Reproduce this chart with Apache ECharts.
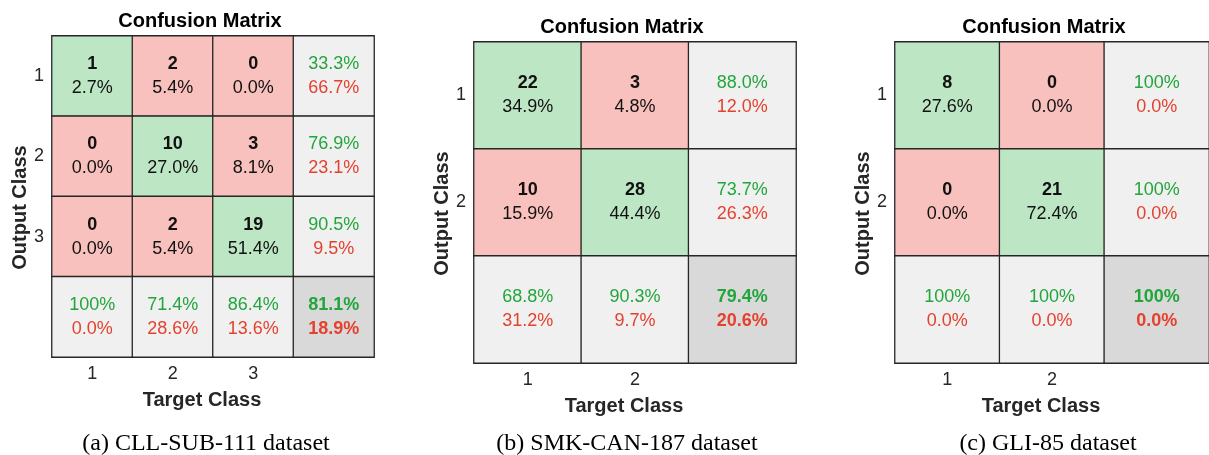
<!DOCTYPE html>
<html>
<head>
<meta charset="utf-8">
<script src="https://cdn.jsdelivr.net/npm/echarts@6/dist/echarts.min.js"></script>
<style>
  html, body { margin: 0; padding: 0; background: #fff; }
  #main { width: 1209px; height: 455px; }
</style>
</head>
<body>
<div id="main"></div>
<script>
// confusion matrices: rows = output class, columns = target class
const classesA = ['1', '2', '3']
const countsA = [[1, 2, 0], [0, 10, 3], [0, 2, 19]]
const classesB = ['1', '2']
const countsB = [[22, 3], [10, 28]]
const classesC = ['1', '2']
const countsC = [[8, 0], [0, 21]]

const captions = ['(a) CLL-SUB-111 dataset', '(b) SMK-CAN-187 dataset', '(c) GLI-85 dataset']

const GREEN_BG = '#bde6c4'
const RED_BG = '#f8c1bd'
const GRAY_BG = '#f0f0f0'
const DARK_BG = '#d9d9d9'
const GREEN_TX = '#22a63c'
const RED_TX = '#e5412f'

function fmt(p) {
    return p >= 99.95 ? '100%' : p.toFixed(1) + '%'
}
function okErr(correct, n) {
    const p = Math.round(correct / n * 1000) / 10
    return [fmt(p), fmt(100 - p)]
}

function buildPanel(idx, classes, counts, box) {
    const k = classes.length
    let total = 0, trace = 0
    counts.forEach((row, i) => row.forEach((v, j) => { total += v; if (i === j) trace += v }))
    const data = []
    for (let i = 0; i < k; i++) {
        for (let j = 0; j < k; j++) {
            const v = counts[i][j]
            data.push({
                value: [j, i, v],
                itemStyle: { color: i === j ? GREEN_BG : RED_BG },
                label: { formatter: '{c|' + v + '}\n{p|' + (v / total * 100).toFixed(1) + '%}' }
            })
        }
        const rowSum = counts[i].reduce((a, b) => a + b, 0)
        const r = okErr(counts[i][i], rowSum)
        data.push({
            value: [k, i, 0],
            itemStyle: { color: GRAY_BG },
            label: { formatter: '{g|' + r[0] + '}\n{r|' + r[1] + '}' }
        })
    }
    for (let j = 0; j < k; j++) {
        let colSum = 0
        for (let i = 0; i < k; i++) colSum += counts[i][j]
        const r = okErr(counts[j][j], colSum)
        data.push({
            value: [j, k, 0],
            itemStyle: { color: GRAY_BG },
            label: { formatter: '{g|' + r[0] + '}\n{r|' + r[1] + '}' }
        })
    }
    const t = okErr(trace, total)
    data.push({
        value: [k, k, 0],
        itemStyle: { color: DARK_BG },
        label: { formatter: '{gb|' + t[0] + '}\n{rb|' + t[1] + '}' }
    })

    const cats = classes.concat([''])
    return {
        grid: { left: box.left, top: box.top, width: box.width, height: box.height },
        xAxis: {
            type: 'category', gridIndex: idx, data: cats,
            axisLine: { show: false }, axisTick: { show: false }, splitLine: { show: false },
            axisLabel: { color: '#262626', fontSize: 18, margin: 8, fontFamily: 'Liberation Sans' },
            name: 'Target Class', nameLocation: 'middle', nameGap: 33,
            nameTextStyle: { color: '#262626', fontSize: 20, fontWeight: 'bold', fontFamily: 'Liberation Sans', padding: [0, 22, 0, 0] }
        },
        yAxis: {
            type: 'category', gridIndex: idx, data: cats, inverse: true,
            axisLine: { show: false }, axisTick: { show: false }, splitLine: { show: false },
            axisLabel: { color: '#262626', fontSize: 18, margin: 8, fontFamily: 'Liberation Sans' },
            name: 'Output Class', nameLocation: 'middle', nameGap: 21, nameRotate: 90,
            nameTextStyle: { color: '#262626', fontSize: 20, fontWeight: 'bold', fontFamily: 'Liberation Sans', padding: [0, 22, 0, 0] }
        },
        series: {
            type: 'heatmap',
            xAxisIndex: idx, yAxisIndex: idx,
            data: data,
            itemStyle: { borderColor: '#262626', borderWidth: 1.3 },
            emphasis: { disabled: true },
            label: {
                show: true,
                fontFamily: 'Liberation Sans',
                rich: {
                    c: { fontSize: 18, fontWeight: 'bold', color: '#111', lineHeight: 24, fontFamily: 'Liberation Sans' },
                    p: { fontSize: 18, color: '#111', lineHeight: 24, fontFamily: 'Liberation Sans' },
                    g: { fontSize: 18, color: GREEN_TX, lineHeight: 24, fontFamily: 'Liberation Sans' },
                    r: { fontSize: 18, color: RED_TX, lineHeight: 24, fontFamily: 'Liberation Sans' },
                    gb: { fontSize: 18, fontWeight: 'bold', color: GREEN_TX, lineHeight: 24, fontFamily: 'Liberation Sans' },
                    rb: { fontSize: 18, fontWeight: 'bold', color: RED_TX, lineHeight: 24, fontFamily: 'Liberation Sans' }
                }
            }
        }
    }
}

const panels = [
    buildPanel(0, classesA, countsA, { left: 52, top: 36, width: 322, height: 321 }),
    buildPanel(1, classesB, countsB, { left: 474, top: 42, width: 322, height: 321 }),
    buildPanel(2, classesC, countsC, { left: 895, top: 42, width: 321, height: 321 })
]

const titleX = [200, 622, 1044]
const titleY = [11, 17, 17]
const captionX = [206, 627, 1048]

const titles = []
for (let i = 0; i < 3; i++) {
    titles.push({
        text: 'Confusion Matrix', left: titleX[i], top: titleY[i], textAlign: 'center', padding: 0,
        textStyle: { fontSize: 20, fontWeight: 'bold', color: '#000', fontFamily: 'Liberation Sans' }
    })
    titles.push({
        text: captions[i], left: captionX[i], top: 432, textAlign: 'center', padding: 0,
        textStyle: { fontSize: 24, fontWeight: 'normal', color: '#000', fontFamily: 'Liberation Serif' }
    })
}

const chart = echarts.init(document.getElementById('main'))
chart.setOption({
    backgroundColor: '#fff',
    animation: false,
    title: titles,
    grid: panels.map(p => p.grid),
    xAxis: panels.map(p => p.xAxis),
    yAxis: panels.map(p => p.yAxis),
    series: panels.map(p => p.series)
})
</script>
</body>
</html>
